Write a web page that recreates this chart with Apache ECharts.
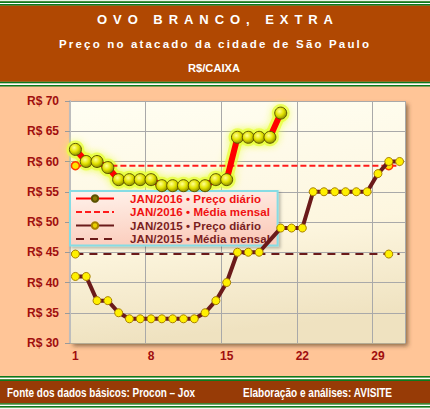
<!DOCTYPE html>
<html><head><meta charset="utf-8">
<script src="https://cdn.jsdelivr.net/npm/echarts@6/dist/echarts.min.js"></script>
<style>html,body{margin:0;padding:0;background:#FFC597}#c{width:430px;height:409px}</style>
</head><body><div id="c"></div>
<script>
// ---- data ----
const days = ['1','2','3','4','5','6','7','8','9','10','11','12','13','14','15','16','17','18','19','20','21','22','23','24','25','26','27','28','29','30','31'];
const preco2016 = [62,60,60,59,57,57,57,57,56,56,56,56,56,57,57,64,64,64,64,68];
const preco2015 = [41,41,37,37,35,34,34,34,34,34,34,34,35,37,40,45,45,45,null,49,49,49,55,55,55,55,55,55,58,60,60];
const media2016 = 59.3;
const media2015 = 44.7;
const mediaMarkerDays = ['1','30'];
const legendNames = ['JAN/2016 \u2022 Pre\u00e7o di\u00e1rio','JAN/2016 \u2022 M\u00e9dia mensal','JAN/2015 \u2022 Pre\u00e7o di\u00e1rio','JAN/2015 \u2022 M\u00e9dia mensal'];
const titleText = 'OVO BRANCO, EXTRA';
const subtitleText = 'Pre\u00e7o no atacado da cidade de S\u00e3o Paulo';
const unitText = 'R$/CAIXA';
const sourceText = 'Fonte dos dados b\u00e1sicos: Procon \u2013 Jox';
const creditText = 'Elabora\u00e7\u00e3o e an\u00e1lises: AVISITE';

// ---- styling ----
const FONT = 'Arial, "Liberation Sans", sans-serif';
const GREEN = '#0B7A1E';
const RED_TXT = '#A00E0E';
const MAROON = '#6B1A1A';
const GLOW = 'rgba(232,255,60,0.75)';

function meanData(v){
  return days.map(d => ({value: v, symbol: mediaMarkerDays.indexOf(d) >= 0 ? 'circle' : 'none'}));
}
function band(y, h, color){ return {type:'rect', shape:{x:0, y:y, width:430, height:h}, style:{fill:color}, silent:true}; }

const chart = echarts.init(document.getElementById('c'), null, {renderer:'svg'});
chart.setOption({
  animation:false,
  backgroundColor:'#FFC597',
  graphic:[
    band(0,1.3,'#E8F5E8'), band(1.3,1.8,GREEN), band(3.1,1,'#FFFFFF'), band(4.1,1.7,GREEN),
    band(5.8,75.9,'#B04802'),
    band(81.7,1.8,GREEN), band(83.5,1.5,'#FFFFFF'), band(85,1.4,GREEN),
    band(376,1.8,GREEN), band(377.8,1.4,'#FFFFFF'), band(379.2,1.7,GREEN),
    band(380.9,22.4,'#973B06'),
    band(403.3,1.4,GREEN), band(404.7,1.3,'#FFFFFF'), band(406,1.7,GREEN), band(407.7,1.3,'#F0FAF0'),
    {type:'text', x:215, y:19.5, z:10, style:{text:titleText, fill:'#FFFFFF', font:'bold 13px '+FONT, textAlign:'center', textVerticalAlign:'middle'}},
    {type:'text', x:214, y:44, z:10, style:{text:subtitleText, fill:'#FFFFFF', font:'bold 11.5px '+FONT, textAlign:'center', textVerticalAlign:'middle'}},
    {type:'text', x:214, y:67.5, z:10, style:{text:unitText, fill:'#FFFFFF', font:'bold 11.5px '+FONT, textAlign:'center', textVerticalAlign:'middle'}},
    {type:'text', x:7, y:393, z:10, style:{text:sourceText, fill:'#FFFFFF', font:'bold 12px '+FONT, textAlign:'left', textVerticalAlign:'middle'}},
    {type:'text', x:243, y:393, z:10, style:{text:creditText, fill:'#FFFFFF', font:'bold 12px '+FONT, textAlign:'left', textVerticalAlign:'middle'}}
  ],
  grid:{left:70, right:25, top:101, bottom:66, show:true, borderWidth:0,
    backgroundColor:{type:'linear', x:0, y:0, x2:0.15, y2:1, colorStops:[{offset:0,color:'#FFFEF2'},{offset:0.6,color:'#FDF6DF'},{offset:1,color:'#EFE2C0'}]},
    shadowColor:'rgba(70,50,30,0.6)', shadowBlur:4, shadowOffsetX:3, shadowOffsetY:3},
  legend:{
    orient:'vertical', left:70, top:191,
    padding:[1,10,0,5], itemGap:0.5, itemWidth:38, itemHeight:8,
    backgroundColor:{type:'linear', x:0, y:0, x2:0.3, y2:1, colorStops:[{offset:0,color:'#FFF3EC'},{offset:1,color:'#FBCDBD'}]},
    borderColor:'#86DCE4', borderWidth:2,
    shadowColor:'rgba(0,0,0,0.25)', shadowBlur:3, shadowOffsetX:2, shadowOffsetY:2,
    textStyle:{fontFamily:FONT, fontWeight:'bold', fontSize:11.5, lineHeight:13, padding:[0,0,0,11]},
    data:[
      {name:legendNames[0], textStyle:{color:'#F01010'}, itemStyle:{color:'#8A7A00', borderColor:'#5A5200', shadowBlur:0}, lineStyle:{shadowBlur:0}},
      {name:legendNames[1], textStyle:{color:'#F01010'}, itemStyle:{opacity:0}},
      {name:legendNames[2], textStyle:{color:'#7A1E1E'}, itemStyle:{color:'#E8D000'}},
      {name:legendNames[3], textStyle:{color:'#7A1E1E'}, itemStyle:{opacity:0}}
    ]
  },
  xAxis:{type:'category', data:days, boundaryGap:true,
    axisLine:{show:true, lineStyle:{color:'#B5AC95', width:1}}, axisTick:{show:false},
    axisLabel:{interval:6, color:RED_TXT, fontWeight:'bold', fontSize:12, fontFamily:FONT, margin:7},
    splitLine:{show:true, interval:6, lineStyle:{color:'#A9A9A9', width:1}}},
  yAxis:{type:'value', min:30, max:70, interval:5,
    axisLine:{show:true, lineStyle:{color:'#BDBDBD', width:2}},
    axisTick:{show:true, length:5, lineStyle:{color:'#9A9A9A'}},
    axisLabel:{formatter:'R$ {value}', color:RED_TXT, fontWeight:'bold', fontSize:12, fontFamily:FONT, margin:11},
    splitLine:{lineStyle:{color:'#A9A9A9', width:1}}},
  series:[
    {name:legendNames[0], type:'line', data:preco2016, z:6, showAllSymbol:true,
      lineStyle:{color:'#FF0000', width:6},
      symbol:'circle', symbolSize:12,
      itemStyle:{color:{type:'radial', x:0.4, y:0.35, r:0.7, colorStops:[{offset:0,color:'#FFFF90'},{offset:0.5,color:'#E2E200'},{offset:1,color:'#828200'}]},
        borderColor:'#5E5600', borderWidth:1}},
    {name:legendNames[1], type:'line', data:meanData(media2016), z:3, showAllSymbol:true,
      symbol:'none', symbolSize:8,
      lineStyle:{color:'#FF1A1A', width:2, type:[6,3]},
      itemStyle:{color:'#FFE400', borderColor:'#FF3A00', borderWidth:1.5}},
    {name:legendNames[2], type:'line', data:preco2015, z:4, connectNulls:true, showAllSymbol:true,
      symbol:'circle', symbolSize:8,
      lineStyle:{color:MAROON, width:4},
      itemStyle:{color:'#FFF000', borderColor:'#A88000', borderWidth:1}},
    {name:legendNames[3], type:'line', data:meanData(media2015), z:3, showAllSymbol:true,
      symbol:'none', symbolSize:8,
      lineStyle:{color:MAROON, width:2, type:[8,6]},
      itemStyle:{color:'#FFF000', borderColor:'#A88000', borderWidth:1}},
    // yellow glow drawn under the 2016 daily line (same data, decoration only)
    {name:'glow2016', type:'line', data:preco2016, z:2, showAllSymbol:true, silent:true,
      lineStyle:{color:GLOW, width:12, shadowColor:GLOW, shadowBlur:8},
      symbol:'circle', symbolSize:18,
      itemStyle:{color:GLOW, borderWidth:0, shadowColor:GLOW, shadowBlur:7}}
  ]
});

// stretch texts to match the reference's letter spacing
const stretch = {};
stretch[titleText] = [236,'spacing'];
stretch[subtitleText] = [310,'spacing'];
stretch[unitText] = [52,'spacingAndGlyphs'];
stretch[sourceText] = [188,'spacingAndGlyphs'];
stretch[creditText] = [149,'spacingAndGlyphs'];
stretch[legendNames[0]] = [131,'spacing'];
stretch[legendNames[1]] = [140,'spacing'];
stretch[legendNames[2]] = [131,'spacing'];
stretch[legendNames[3]] = [140,'spacing'];
function applyStretch(){
  document.querySelectorAll('#c text').forEach(t => {
    const s = stretch[t.textContent];
    if (s) { t.setAttribute('textLength', s[0]); t.setAttribute('lengthAdjust', s[1]); }
  });
}
applyStretch();
chart.on('finished', applyStretch);
setTimeout(applyStretch, 50);
</script></body></html>
